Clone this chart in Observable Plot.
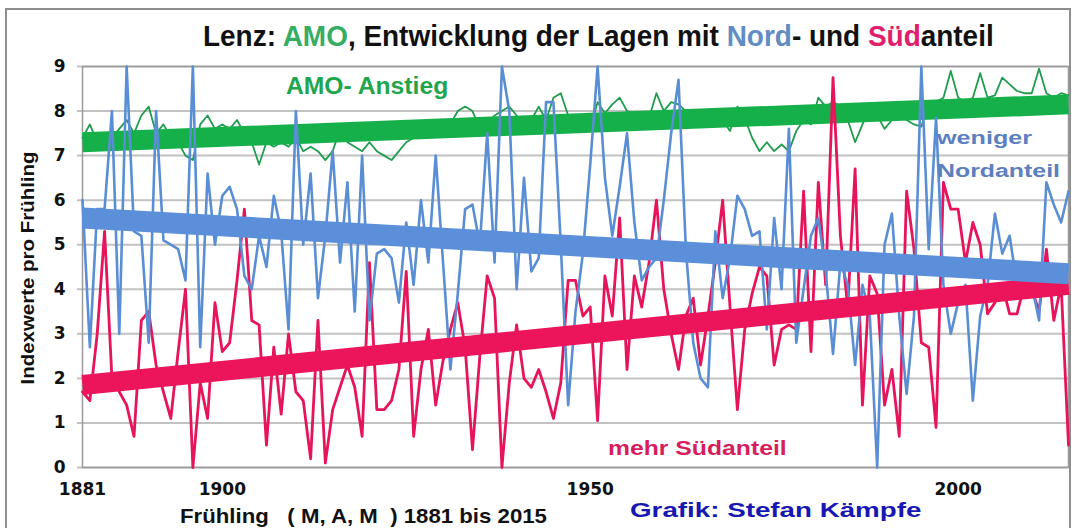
<!DOCTYPE html>
<html><head><meta charset="utf-8">
<script src="https://cdn.jsdelivr.net/npm/d3@7"></script>
<script src="https://cdn.jsdelivr.net/npm/@observablehq/plot@0.6"></script>
<style>
body{margin:0;background:#fff;}
#wrap{position:relative;width:1076px;height:528px;overflow:hidden;background:#fff;font-family:"Liberation Sans",Arial,sans-serif;}
#chart{position:absolute;left:0;top:0;}
.t{position:absolute;white-space:pre;font-weight:bold;line-height:1;transform-origin:0 50%;}
#border{position:absolute;left:5px;top:8px;width:1066px;height:540px;border:2px solid #8e8e8e;box-sizing:border-box;}
</style></head><body>
<div id="wrap">
<div id="border"></div>
<div id="chart"></div>
<div class="t" data-w="791" style="left:203px;top:22px;font-size:29px;color:#111;">Lenz: <span style="color:#35ad63">AMO</span>, Entwicklung der Lagen mit <span style="color:#5f8dc4">Nord</span>- und <span style="color:#e0206a">Süd</span>anteil</div>
<div class="t" data-w="162" style="left:286px;top:75px;font-size:23px;color:#1fa64c;">AMO- Anstieg</div>
<div class="t" data-w="95" style="left:937px;top:129px;font-size:18px;color:#5b7fbf;">weniger</div>
<div class="t" data-w="123" style="left:937px;top:162px;font-size:18px;color:#5b7fbf;">Nordanteil</div>
<div class="t" data-w="179" style="left:608px;top:437px;font-size:21px;color:#d81d5c;">mehr Südanteil</div>
<div class="t" data-w="292" style="left:630px;top:499px;font-size:21px;color:#1717b3;">Grafik: Stefan Kämpfe</div>
<div class="t" data-w="367" style="left:180px;top:505px;font-size:21px;color:#111;">Frühling   ( M, A, M  ) 1881 bis 2015</div>
<div class="t" id="ylab" data-w="233" style="left:28px;top:268px;font-size:18px;color:#111;transform-origin:50% 50%;">Indexwerte pro Frühling</div>
</div>
<script>
const firstYear = 1881, lastYear = 2015;
const xTicks = [1881, 1900, 1950, 2000];
const yTicks = [0, 1, 2, 3, 4, 5, 6, 7, 8, 9];

// AMO (green)
const amo = [7.4,7.7,7.3,7.5,7.4,7.6,7.8,7.5,7.9,8.1,7.5,7.7,7.4,7.3,7.0,6.9,7.7,7.9,7.6,7.7,
7.6,7.8,7.5,7.3,6.8,7.3,7.2,7.3,7.2,7.4,7.1,7.2,7.1,6.9,7.1,7.6,7.3,7.2,7.1,7.3,
7.1,7.0,6.9,7.1,7.3,7.4,7.6,7.8,7.7,7.6,7.7,8.0,8.1,8.0,7.6,7.7,7.9,8.0,8.1,7.9,
7.7,7.8,8.1,7.8,8.3,8.4,7.9,7.9,7.8,7.6,8.2,7.95,8.15,8.3,8.0,7.95,7.9,7.85,8.4,8.0,
8.2,8.15,8.0,7.85,7.8,7.95,7.85,7.8,7.55,8.1,7.85,7.4,7.1,7.3,7.1,7.25,7.1,7.55,7.8,7.7,
8.3,8.1,8.2,8.1,7.8,7.3,7.7,8.1,7.9,7.6,7.8,7.85,7.8,7.7,7.65,8.2,8.2,8.3,8.9,8.3,
8.2,8.3,8.85,8.3,8.35,8.75,8.6,8.45,8.4,8.4,8.95,8.4,8.3,8.4,8.35];

// Lagen mit Nordanteil (blue)
const nord = [6.0,2.7,5.8,5.8,8.0,3.0,9.0,5.3,5.2,2.8,8.0,5.1,5.0,4.9,4.2,9.0,2.7,6.6,5.0,6.1,
6.3,5.8,4.3,4.0,5.2,4.5,6.1,5.3,3.1,8.0,5.0,6.6,3.8,5.2,7.1,4.6,6.4,3.5,7.0,3.3,
4.8,4.9,4.7,3.7,5.5,4.1,6.0,4.6,7.0,4.6,2.2,3.9,5.8,5.9,5.0,7.5,4.6,9.0,8.0,4.0,
6.5,4.4,4.7,8.2,8.2,5.0,1.4,3.5,4.8,6.8,9.0,6.5,5.2,6.3,7.5,5.5,4.2,4.5,4.7,6.0,
7.5,8.7,4.9,2.8,2.0,1.8,5.3,3.8,4.7,6.1,5.8,5.2,5.3,3.1,5.6,4.0,7.6,2.8,4.0,5.2,
5.6,4.4,2.55,4.6,4.1,2.3,4.1,3.4,0.0,5.0,5.7,3.4,1.65,3.4,9.0,4.9,7.85,4.1,3.0,3.7,
4.1,1.5,3.4,4.1,5.7,4.8,5.2,4.1,4.0,4.1,3.3,6.4,5.9,5.5,6.2];

// Lagen mit Südanteil (red)
const sued = [1.7,1.5,3.0,5.3,2.0,1.7,1.4,0.7,3.3,3.5,2.3,1.7,1.1,2.6,4.0,0.0,1.9,1.1,3.7,2.6,
2.8,4.2,5.8,3.3,3.2,0.5,2.7,1.2,3.0,1.7,1.5,0.2,3.3,0.1,1.3,1.8,2.3,1.8,0.7,4.6,
1.3,1.3,1.5,2.2,4.4,0.7,2.2,3.1,1.4,2.4,3.1,3.7,2.7,0.4,2.5,4.3,3.8,0.0,1.9,3.2,
2.0,1.8,2.2,1.7,1.1,1.9,4.2,4.2,3.4,3.6,1.05,4.3,3.4,5.6,2.2,4.3,3.6,4.6,6.0,4.0,
3.0,2.2,3.4,3.8,2.3,3.4,4.6,6.0,3.6,1.3,3.1,3.9,4.5,4.3,2.3,3.1,3.2,3.1,6.2,2.6,
6.4,4.1,8.75,5.2,3.6,6.7,1.4,4.3,3.9,1.4,2.2,0.7,6.2,4.9,2.8,2.7,0.9,6.4,5.8,5.8,
4.6,5.5,5.0,3.45,3.7,4.1,3.45,3.45,4.1,4.0,3.5,4.9,3.3,4.1,0.5];

// Linear trends (end values)
const trendYears = [1881, 2015];
const amoTrend = [7.3, 8.15];
const nordTrend = [5.6, 4.35];
const suedTrend = [1.85, 4.1];

const years = [];
for (let y = firstYear; y <= lastYear; y++) years.push(y);
const rows = vals => vals.map((v, i) => ({year: years[i], value: v}));
const trows = vals => vals.map((v, i) => ({year: trendYears[i], value: v}));

const chart = Plot.plot({
  width: 1076, height: 528,
  marginLeft: 82, marginRight: 8, marginTop: 66, marginBottom: 61,
  style: {fontFamily: "DejaVu Sans", fontSize: "17px", fontWeight: "bold", color: "#111", background: "transparent"},
  x: {domain: [firstYear, lastYear], label: null},
  y: {domain: [0, 9], label: null},
  marks: [
    Plot.gridY(yTicks, {stroke: "#c2c2c2", strokeOpacity: 1, strokeWidth: 2, insetLeft: -5}),
    Plot.frame({stroke: "#9a9a9a", strokeWidth: 1.5}),
    Plot.axisX(xTicks, {tickSize: 0, tickPadding: 15, tickFormat: d => String(d), fontSize: 17, fontWeight: "bold"}),
    Plot.axisY(yTicks, {tickSize: 0, tickPadding: 17, fontSize: 17, fontWeight: "bold"}),
    Plot.line(rows(amo), {x: "year", y: "value", stroke: "#1f9c4e", strokeWidth: 1.8}),
    Plot.line(trows(amoTrend), {x: "year", y: "value", stroke: "#15b04a", strokeWidth: 20, strokeLinecap: "butt"}),
    Plot.line(rows(sued), {x: "year", y: "value", stroke: "#e6145a", strokeWidth: 2.8}),
    Plot.line(rows(nord), {x: "year", y: "value", stroke: "#5a8ed4", strokeWidth: 2.6}),
    Plot.line(trows(suedTrend), {x: "year", y: "value", stroke: "#ec145b", strokeWidth: 20, strokeLinecap: "butt"}),
    Plot.line(trows(nordTrend), {x: "year", y: "value", stroke: "#5b8fda", strokeWidth: 21, strokeLinecap: "butt"})
  ]
});
document.getElementById("chart").appendChild(chart);

document.querySelectorAll(".t").forEach(el => {
  const w = +el.dataset.w;
  const s = w / el.offsetWidth;
  if (el.id === "ylab") {
    el.style.transform = `translate(-50%,-50%) rotate(-90deg) scaleX(${s})`;
  } else {
    el.style.transform = `scaleX(${s})`;
  }
});
</script>
</body></html>
